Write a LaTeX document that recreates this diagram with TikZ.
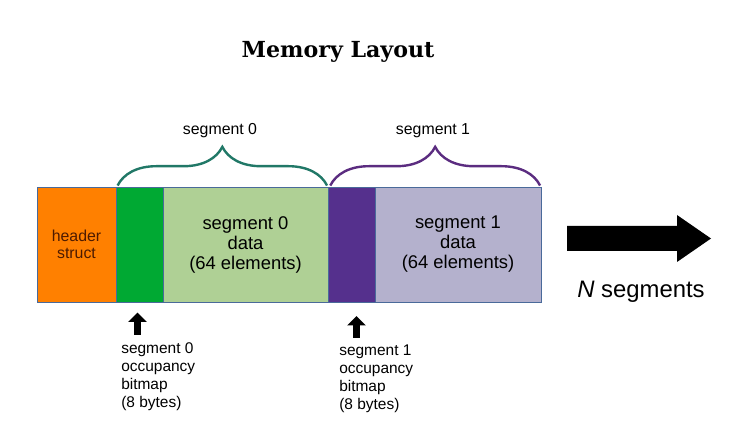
\documentclass[tikz,border=0pt]{standalone}
\usepackage{fontspec}
\setmainfont{DejaVu Serif}
\setsansfont{Liberation Sans}
\usetikzlibrary{arrows.meta, decorations.pathreplacing}

\definecolor{hdrorange}{HTML}{FF8000}
\definecolor{bmpgreen}{HTML}{00A933}
\definecolor{datagreen}{HTML}{AFD095}
\definecolor{bmppurple}{HTML}{55308D}
\definecolor{datapurple}{HTML}{B4B1CD}
\definecolor{bracegreen}{HTML}{217867}
\definecolor{bracepurple}{HTML}{5B2C80}
\definecolor{cellline}{HTML}{4A6A9A}
\definecolor{hdrtext}{HTML}{4D1A00}

\begin{document}
\begin{tikzpicture}
            [x=0.75pt, y=-0.75pt, font=\sffamily,
             cell/.style={draw=cellline, line width=0.6pt, minimum height=115*0.75pt, inner sep=0pt, align=center},
             bigtext/.style={font=\sffamily\fontsize{13.8}{15}\selectfont},
             smalltext/.style={font=\sffamily\fontsize{11.6}{13.5}\selectfont, align=left, inner sep=0pt},
             segbrace/.style={decorate, decoration={brace, amplitude=29pt}, line width=1.8pt},
             uparrow/.style={line width=5pt, -{Triangle[width=13.5pt, length=7pt]}}]
            \useasboundingbox (0, 0) rectangle (754, 438);

            \node[font=\bfseries\fontsize{16.6}{20}\selectfont] (title) at (338, 52) {Memory Layout};

            % the memory cells
            \node[cell, fill=hdrorange, minimum width=79*0.75pt, font=\sffamily\fontsize{11.9}{12.75}\selectfont, text=hdrtext] (header) at (76.5, 244.5) {header\\struct};
            \node[cell, fill=bmpgreen, minimum width=47*0.75pt] (bmp0) at (139.5, 244.5) {};
            \node[cell, fill=datagreen, minimum width=165*0.75pt, bigtext] (data0) at (245.5, 244.5) {segment 0\\data\\(64 elements)};
            \node[cell, fill=bmppurple, minimum width=47*0.75pt] (bmp1) at (351.5, 244.5) {};
            \node[cell, fill=datapurple, minimum width=166*0.75pt, bigtext] (data1) at (458, 244.5) {segment 1\\data\\(64 elements)};

            % braces over the segments
            \draw[segbrace, bracegreen] ([xshift=1.5pt, yshift=0.8pt]bmp0.north west) -- ([xshift=-1pt, yshift=0.8pt]data0.north east);
            \draw[segbrace, bracepurple] ([xshift=2pt, yshift=0.8pt]bmp1.north west) -- ([xshift=-1pt, yshift=0.8pt]data1.north east);
            \node[font=\sffamily\fontsize{11.9}{14}\selectfont] (seg0) at (220, 131) {segment 0};
            \node[font=\sffamily\fontsize{11.9}{14}\selectfont] (seg1) at (433, 131) {segment 1};

            % bitmap notes
            \node[smalltext, anchor=north west] (note0) at (121, 342) {segment 0\\occupancy\\bitmap\\(8 bytes)};
            \node[smalltext, anchor=north west] (note1) at (339, 345) {segment 1\\occupancy\\bitmap\\(8 bytes)};
            \coordinate (tail0) at (137.5, 335);
            \coordinate (tip0) at (137.5, 312.5);
            \coordinate (tail1) at (356.5, 338);
            \coordinate (tip1) at (356.5, 316);
            \draw[uparrow] (tail0) -- (tip0);
            \draw[uparrow] (tail1) -- (tip1);

            % more segments
            \fill (567, 226) -- (677, 226) -- (677, 215) -- (711, 238.5) -- (677, 262) -- (677, 251) -- (567, 251) -- cycle;
            \node[font=\sffamily\fontsize{17.9}{20}\selectfont] (nseg) at (641, 292) {\textit{N} segments};
        \end{tikzpicture}
\end{document}
